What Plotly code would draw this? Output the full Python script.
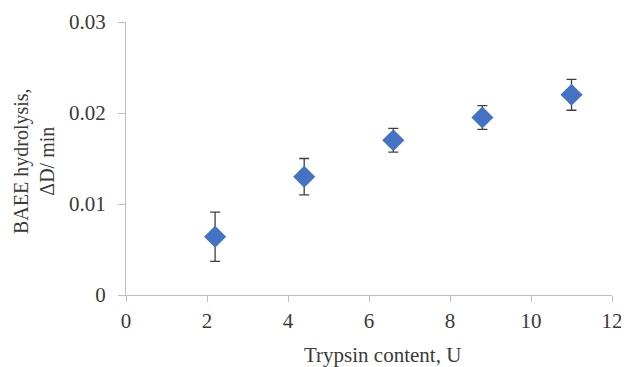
import plotly.graph_objects as go

trypsin_u = [2.2, 4.4, 6.6, 8.8, 11.0]
baee_rate = [0.0064, 0.0130, 0.0170, 0.0195, 0.0220]
baee_err = [0.0027, 0.0020, 0.0013, 0.0013, 0.0017]

x_ticks = [0, 2, 4, 6, 8, 10, 12]
y_ticks = [0, 0.01, 0.02, 0.03]
y_tick_labels = ["0", "0.01", "0.02", "0.03"]

font_family = "Liberation Serif, DejaVu Serif, serif"
txt = "#3a3a3a"
axis_col = "#BFBFBF"

# page body has an 8px margin; figure coordinates are offset accordingly
OFF = 8
W, H = 629 - OFF, 367 - OFF
L, T = 126 - OFF, 22 - OFF
pw, ph = 486, 273
R, B = W - L - pw, H - T - ph

def px_x(px):
    return (px - OFF - L) / pw

def px_y(py):
    return 1 - (py - OFF - T) / ph

fig = go.Figure()
fig.add_trace(go.Scatter(
    x=trypsin_u, y=baee_rate, mode="markers",
    marker=dict(symbol="diamond", size=17, color="#4472C4"),
    error_y=dict(type="data", array=baee_err, visible=True,
                 color="#404040", thickness=1.3, width=5),
    showlegend=False,
))

fig.update_layout(
    width=W, height=H,
    margin=dict(l=L, r=R, t=T, b=B),
    paper_bgcolor="white", plot_bgcolor="white",
    font=dict(family=font_family, size=21, color=txt),
    xaxis=dict(range=[0, 12], tickvals=x_ticks, showgrid=False, zeroline=False,
               showline=True, linecolor=axis_col, linewidth=1.3,
               ticks="outside", ticklen=6, tickcolor=axis_col, automargin=False,
               ticklabelstandoff=1),
    yaxis=dict(range=[0, 0.03], tickvals=y_ticks, ticktext=y_tick_labels, showgrid=False,
               zeroline=False, showline=True, linecolor=axis_col, linewidth=1.3,
               ticks="outside", ticklen=7, tickcolor=axis_col, automargin=False,
               ticklabelstandoff=8),
    annotations=[
        dict(text="Trypsin content, U", xref="paper", yref="paper",
             x=px_x(382), y=px_y(355), showarrow=False,
             xanchor="center", yanchor="middle", font=dict(size=21, color=txt)),
        dict(text="BAEE hydrolysis,<br>ΔD/ min", xref="paper", yref="paper",
             x=px_x(34), y=px_y(161), showarrow=False, textangle=-90,
             xanchor="center", yanchor="middle", font=dict(size=20, color=txt)),
    ],
)

fig.write_html("out.html")
